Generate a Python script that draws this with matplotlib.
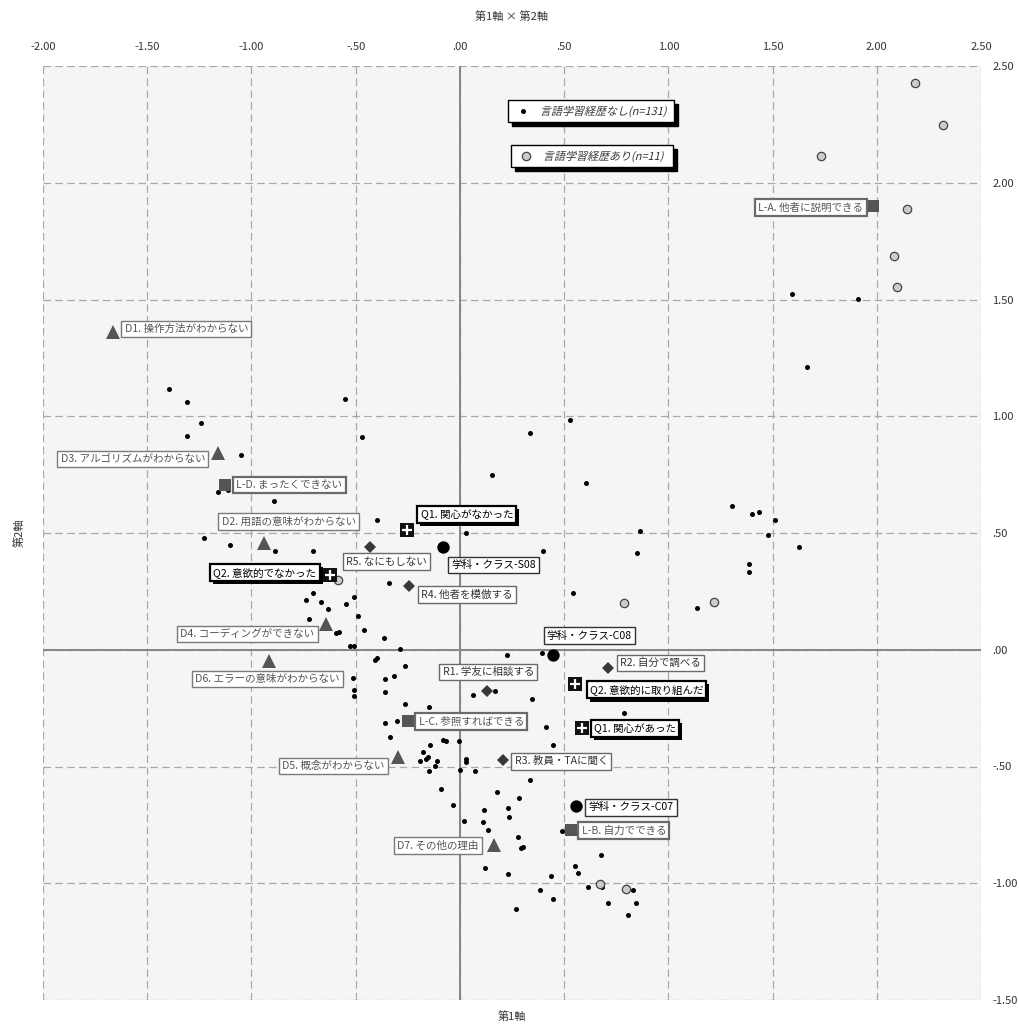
import matplotlib.pyplot as plt
import matplotlib.patches as mpatches
import matplotlib.patheffects as pe
from matplotlib.lines import Line2D
from matplotlib.textpath import TextPath
from matplotlib.font_manager import FontProperties
from matplotlib.transforms import Affine2D
from matplotlib.ticker import FuncFormatter, MultipleLocator

plt.rcParams['font.family'] = ['Noto Sans CJK JP', 'DejaVu Sans']

# --- data (axis 1, axis 2) ---
# students without language learning experience (n=131)
no_exp_xy = [
    (-1.397, 1.117), (-1.308, 1.063), (-1.242, 0.970), (-1.308, 0.917), (-1.048, 0.833),
    (-0.549, 1.074), (-0.469, 0.911), (-1.161, 0.675), (-1.114, 0.685), (-0.894, 0.636),
    (-0.398, 0.556), (-1.226, 0.479), (-1.104, 0.448), (-0.888, 0.422), (-0.707, 0.422),
    (-0.339, 0.288), (-0.707, 0.245), (-0.739, 0.211), (-0.664, 0.203), (-0.510, 0.227),
    (-0.546, 0.197), (-0.635, 0.173), (-0.488, 0.143), (-0.725, 0.131), (-0.595, 0.073),
    (-0.581, 0.077), (-0.459, 0.086), (-0.365, 0.050), (-0.528, 0.017), (-0.507, 0.017),
    (-0.287, 0.004), (-0.398, -0.037), (-0.407, -0.044), (-0.261, -0.068), (-0.317, -0.111),
    (-0.357, -0.125), (-0.515, -0.121), (-0.506, -0.171), (-0.509, -0.197), (-0.357, -0.180),
    (-0.261, -0.232), (-0.146, -0.247), (0.061, -0.194), (0.027, 0.502), (0.224, -0.021),
    (0.394, -0.014), (0.170, -0.176), (0.346, -0.211), (-0.360, -0.314), (-0.304, -0.305),
    (-0.336, -0.375), (-0.141, -0.407), (-0.080, -0.385), (-0.069, -0.390), (-0.003, -0.390),
    (-0.176, -0.437), (-0.152, -0.459), (-0.163, -0.468), (-0.189, -0.475), (-0.112, -0.475),
    (-0.120, -0.499), (-0.146, -0.518), (0.027, -0.470), (0.028, -0.482), (0.000, -0.514),
    (0.074, -0.521), (0.336, -0.557), (0.411, -0.332), (0.445, -0.407), (0.787, -0.273),
    (-0.093, -0.598), (0.178, -0.609), (0.285, -0.636), (-0.032, -0.667), (0.117, -0.686),
    (0.229, -0.679), (0.234, -0.718), (0.021, -0.732), (0.112, -0.736), (0.134, -0.771),
    (0.277, -0.802), (0.301, -0.843), (0.291, -0.848), (0.490, -0.778), (0.677, -0.878),
    (0.122, -0.935), (0.552, -0.928), (0.229, -0.959), (0.438, -0.969), (0.565, -0.955),
    (0.613, -1.016), (0.680, -1.016), (0.832, -1.027), (0.384, -1.030), (0.448, -1.066),
    (0.712, -1.084), (0.845, -1.084), (0.805, -1.134), (0.267, -1.112), (0.336, 0.929),
    (0.527, 0.982), (0.152, 0.748), (0.603, 0.714), (0.866, 0.507), (0.397, 0.422),
    (0.848, 0.415), (0.542, 0.245), (1.136, 0.177), (1.304, 0.615), (1.403, 0.581),
    (1.437, 0.591), (1.511, 0.557), (1.480, 0.492), (1.627, 0.441), (1.386, 0.368),
    (1.386, 0.334), (1.594, 1.523), (1.912, 1.503), (1.666, 1.209),
]

# students with language learning experience (n=11)
exp_xy = [
    (2.181, 2.426), (2.320, 2.247), (1.732, 2.113), (2.143, 1.888), (2.084, 1.688),
    (2.099, 1.554), (0.786, 0.200), (1.218, 0.204), (0.672, -1.002), (0.795, -1.023),
    (-0.584, 0.300),
]

# difficulties (triangles)
d_names = ['D1. 操作方法がわからない', 'D3. アルゴリズムがわからない', 'D2. 用語の意味がわからない',
           'D4. コーディングができない', 'D6. エラーの意味がわからない', 'D5. 概念がわからない',
           'D7. その他の理由']
d_x = [-1.666, -1.160, -0.942, -0.640, -0.915, -0.298, 0.162]
d_y = [1.360, 0.842, 0.459, 0.110, -0.047, -0.459, -0.838]

# level (squares)
l_names = ['L-A. 他者に説明できる', 'L-D. まったくできない', 'L-C. 参照すればできる', 'L-B. 自力でできる']
l_x = [1.984, -1.125, -0.251, 0.531]
l_y = [1.899, 0.706, -0.307, -0.774]

# reaction (diamonds)
r_names = ['R5. なにもしない', 'R4. 他者を模倣する', 'R1. 学友に相談する', 'R2. 自分で調べる', 'R3. 教員・TAに聞く']
r_x = [-0.432, -0.243, 0.128, 0.709, 0.205]
r_y = [0.442, 0.275, -0.176, -0.078, -0.474]

# questionnaire (black square with plus)
q_names = ['Q1. 関心がなかった', 'Q2. 意欲的でなかった', 'Q2. 意欲的に取り組んだ', 'Q1. 関心があった']
q_x = [-0.256, -0.621, 0.551, 0.587]
q_y = [0.511, 0.321, -0.146, -0.334]

# department / class (big circles)
c_names = ['学科・クラス-S08', '学科・クラス-C08', '学科・クラス-C07']
c_x = [-0.080, 0.446, 0.555]
c_y = [0.440, -0.021, -0.671]

legend_labels = ['言語学習経歴なし(n=131)', '言語学習経歴あり(n=11)']

# label placement (pixel offsets from marker, y up)
d_off = [(12, 3, 'left'), (-13, -6, 'right'), (-42, 21, 'left'), (-12, -10, 'right'),
         (-74, -18, 'left'), (-13, -9, 'right'), (-15, 0, 'right')]
l_off = [(-10, -1, 'right'), (11, 0, 'left'), (11, 0, 'left'), (11, 0, 'left')]
r_off = [(-24, -15, 'left'), (12, -9, 'left'), (-44, 19, 'left'), (12, 5, 'left'), (12, -1, 'left')]
q_off = [(14, 16, 'left'), (-14, 2, 'right'), (15, -6, 'left'), (12, -1, 'left')]
c_off = [(8, -18, 'left'), (-6, 19, 'left'), (13, -1, 'left')]

W, H = 1019, 1027
fig = plt.figure(figsize=(W / 100, H / 100), dpi=100)
ax = fig.add_axes([43 / W, 1 - 1000 / H, 938 / W, 934 / H])
ax.set_facecolor('#f5f5f5')
ax.set_xlim(-2.0, 2.5)
ax.set_ylim(-1.5, 2.5)
ax.xaxis.set_major_locator(MultipleLocator(0.5))
ax.yaxis.set_major_locator(MultipleLocator(0.5))


def fmt(v, pos):
    s = f'{v:.2f}'
    if s.startswith('0.'):
        return s[1:]
    if s.startswith('-0.'):
        return '-' + s[2:]
    return s


ax.xaxis.set_major_formatter(FuncFormatter(fmt))
ax.yaxis.set_major_formatter(FuncFormatter(fmt))
ax.xaxis.tick_top()
ax.yaxis.tick_right()
ax.tick_params(axis='x', length=0, pad=10, labelsize=8, colors='#333333')
ax.tick_params(axis='y', length=0, pad=8, labelsize=8, colors='#333333')
for s in ax.spines.values():
    s.set_visible(False)
ax.grid(True, color='#a8a8a8', linestyle=(0, (6, 3.5)), lw=0.9, zorder=0)
ax.set_axisbelow(True)
ax.axhline(0, color='#858585', lw=1.4, zorder=1)
ax.axvline(0, color='#858585', lw=1.4, zorder=1)

ax.set_xlabel('第1軸', fontsize=8, color='#333333', labelpad=8)
ax.set_ylabel('第2軸', fontsize=8, color='#333333', labelpad=13)
fig.text(512 / W, 1 - 17 / H, '第1軸 × 第2軸', ha='center', va='center', fontsize=8, color='#333333')

# points
ax.plot([p[0] for p in no_exp_xy], [p[1] for p in no_exp_xy], 'o', color='black', ms=3.6, mew=0, zorder=3)
ax.plot([p[0] for p in exp_xy], [p[1] for p in exp_xy], 'o', mfc='#cccccc', mec='#444444', ms=6, mew=0.9, zorder=3)

ax.plot(d_x, d_y, '^', color='#555555', ms=10, mew=0, zorder=4)
ax.plot(l_x, l_y, 's', color='#555555', ms=8, mew=0, zorder=4)
ax.plot(r_x, r_y, 'D', color='#383838', ms=6.5, mew=0, zorder=4)
ax.plot(q_x, q_y, 's', color='#111111', ms=9.6, mew=0, zorder=4)
ax.plot(q_x, q_y, '+', color='white', ms=7, mew=1.6, zorder=4.5)
ax.plot(c_x, c_y, 'o', color='black', ms=8.9, mew=0, zorder=4)

styles = {
    'd': dict(color='#555555', ec='#7a7a7a', lw=1.0, shadow=False),
    'l': dict(color='#555555', ec='#6a6a6a', lw=1.6, shadow=False),
    'r': dict(color='#333333', ec='#6a6a6a', lw=1.0, shadow=False),
    'q': dict(color='black', ec='black', lw=1.6, shadow=True),
    'c': dict(color='black', ec='#333333', lw=1.0, shadow=False),
}


def label(x, y, text, off, kind):
    dx, dy, ha = off
    st = styles[kind]
    t = ax.annotate(text, (x, y), xytext=(dx, dy), textcoords='offset pixels',
                    ha=ha, va='center', fontsize=7.6, color=st['color'], zorder=6,
                    bbox=dict(boxstyle='square,pad=0.3', fc='white', ec=st['ec'], lw=st['lw']))
    if st['shadow']:
        t.get_bbox_patch().set_path_effects([
            pe.SimplePatchShadow(offset=(2.2, -2.2), shadow_rgbFace='black', alpha=1.0),
            pe.Normal()])


for names, xs, ys, offs, kind in [(d_names, d_x, d_y, d_off, 'd'), (l_names, l_x, l_y, l_off, 'l'),
                                  (r_names, r_x, r_y, r_off, 'r'), (q_names, q_x, q_y, q_off, 'q'),
                                  (c_names, c_x, c_y, c_off, 'c')]:
    for n, x, y, o in zip(names, xs, ys, offs):
        label(x, y, n, o, kind)

# legend boxes (pixel layout, drawn by hand like the original)
to_fig = Affine2D().scale(1 / W, 1 / H) + fig.transFigure
fp = FontProperties(family='Noto Sans CJK JP')
leg_boxes = [(508, 100, 674, 122), (511, 145, 673, 167)]
leg_markers = [dict(marker='o', color='black', ms=3.6, mew=0),
               dict(marker='o', mfc='#cccccc', mec='#444444', ms=6, mew=0.9)]
for (x0, y0, x1, y1), txt, mk in zip(leg_boxes, legend_labels, leg_markers):
    fig.patches.append(mpatches.Rectangle((x0 + 4, H - y1 - 4), x1 - x0, y1 - y0,
                                          transform=to_fig, fc='black', ec='black', lw=1, zorder=7))
    fig.patches.append(mpatches.Rectangle((x0, H - y1), x1 - x0, y1 - y0,
                                          transform=to_fig, fc='white', ec='black', lw=1, zorder=8))
    cy = H - (y0 + y1) / 2
    fig.lines.append(Line2D([x0 + 15], [cy], transform=to_fig, ls='none', zorder=9, **mk))
    tp = TextPath((0, 0), txt, size=11, prop=fp)
    tr = Affine2D().skew_deg(14, 0).translate(x0 + 32, cy - 4) + to_fig
    fig.patches.append(mpatches.PathPatch(tp, transform=tr, fc='#333333', ec='none', zorder=9))

fig.savefig('out.png', dpi=100)
